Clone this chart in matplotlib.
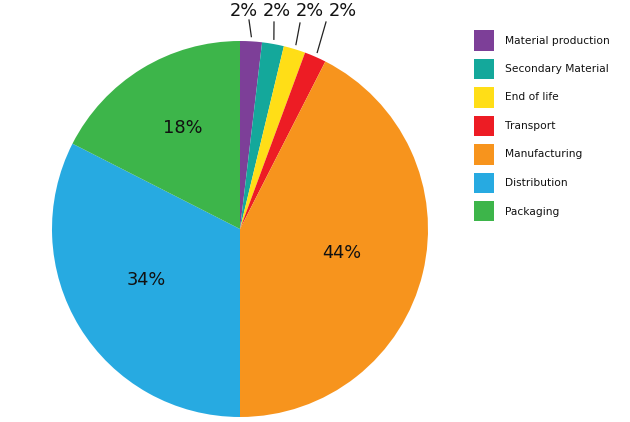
import numpy as np
import matplotlib
matplotlib.use("Agg")
import matplotlib.pyplot as plt
from matplotlib.patches import Rectangle

categories = ["Material production", "Secondary Material", "End of life", "Transport",
              "Manufacturing", "Distribution", "Packaging"]
values = [1.875, 1.875, 1.875, 1.875, 42.5, 32.5, 17.5]
pct_labels = ["2%", "2%", "2%", "2%", "44%", "34%", "18%"]
colors = ["#7D3F98", "#14A89B", "#FFDE17", "#ED1C24", "#F7941D", "#27AAE1", "#3DB54A"]

W, H = 630, 422
fig = plt.figure(figsize=(W / 100, H / 100), dpi=100)
plt.rcParams['font.family'] = ['DejaVu Sans']

cx, cy, R = 240, 229, 188
ax = fig.add_axes([(cx - R) / W, (H - cy - R) / H, 2 * R / W, 2 * R / H])
wedges, _ = ax.pie(values, colors=colors, startangle=90, counterclock=False,
                   radius=1.0, wedgeprops=dict(linewidth=0))
ax.set_xlim(-1, 1)
ax.set_ylim(-1, 1)
ax.set_aspect('equal')
ax.axis('off')

def px2data(x, y):
    return (x - cx) / R, (cy - y) / R

# small slices: outside labels with leader lines
label_x_px = [244, 277, 310, 343]
line_top_px = [(249, 20), (274, 22), (300, 23), (326, 22)]
for i in range(4):
    w = wedges[i]
    mid = np.deg2rad((w.theta1 + w.theta2) / 2)
    sx, sy = 1.025 * np.cos(mid), 1.025 * np.sin(mid)
    ex, ey = px2data(*line_top_px[i])
    ax.plot([sx, ex], [sy, ey], color="#222222", lw=0.9, clip_on=False)
    tx, ty = px2data(label_x_px[i], 11)
    ax.text(tx, ty, pct_labels[i], ha='center', va='center', fontsize=12.8,
            color="#111111", clip_on=False)

# big slices: inside labels (distance, angular nudge in degrees)
pct_pos = {4: (0.555, 0.0), 5: (0.57, -3.0), 6: (0.615, -2.0)}
for i, (d, nudge) in pct_pos.items():
    w = wedges[i]
    mid = np.deg2rad((w.theta1 + w.theta2) / 2 + nudge)
    ax.text(d * np.cos(mid), d * np.sin(mid), pct_labels[i], ha='center',
            va='center', fontsize=12.8, color="#111111")

# legend (drawn in figure pixel coordinates)
row0, row_step = 40.5, 28.5
for i, (cat, col) in enumerate(zip(categories, colors)):
    yc = row0 + i * row_step
    fig.patches.append(Rectangle((474 / W, 1 - (yc + 10) / H), 20 / W, 20 / H,
                                 transform=fig.transFigure, facecolor=col,
                                 edgecolor='none'))
    fig.text(505 / W, 1 - yc / H, cat, ha='left', va='center', fontsize=7.7,
             color="#111111")

fig.savefig("out.png", dpi=100)
